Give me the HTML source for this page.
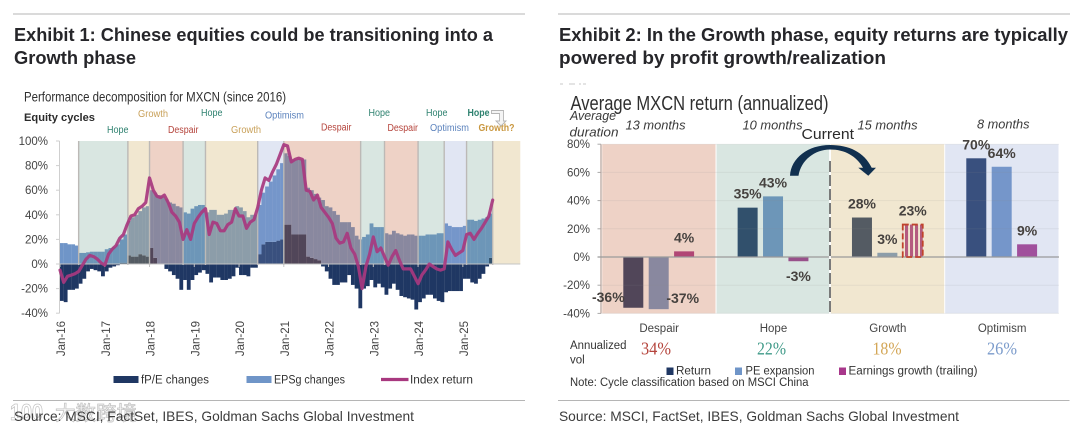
<!DOCTYPE html>
<html lang="en">
<head>
<meta charset="utf-8">
<title>Chinese equities cycle exhibits</title>
<style>
html,body{margin:0;padding:0;background:#fff;width:1080px;height:434px;overflow:hidden}
svg{display:block;font-family:"Liberation Sans","Noto Sans CJK SC",sans-serif;filter:blur(0.3px)}
.title{font-size:18px;font-weight:700;fill:#26262a}
.src{font-size:14px;fill:#3c3c3c}
.tick{font-size:11.5px;fill:#444}
.cyc{font-size:10px}
.leg{font-size:11.5px;fill:#333}
.ital{font-size:13px;font-style:italic;fill:#3a3a3a}
.vol{font-family:"Liberation Serif",serif;font-size:18px}
.lab{font-size:14px;font-weight:700;fill:#46423f}
</style>
</head>
<body>
<svg id="root" width="1080" height="434" viewBox="0 0 1080 434" xmlns="http://www.w3.org/2000/svg">
<defs>
<pattern id="hatch" patternUnits="userSpaceOnUse" width="5" height="6"><rect width="3.2" height="6" fill="#a8378b"/><rect x="3.2" width="1.8" height="6" fill="#fff"/></pattern>
<filter id="halo" x="-20%" y="-40%" width="140%" height="180%"><feMorphology in="SourceAlpha" operator="dilate" radius="1.2" result="d"/><feGaussianBlur in="d" stdDeviation="0.8" result="b"/><feFlood flood-color="#ffffff"/><feComposite in2="b" operator="in" result="w"/><feMerge><feMergeNode in="w"/><feMergeNode in="SourceGraphic"/></feMerge></filter>
</defs>
<line x1="13" y1="14" x2="525" y2="14" stroke="#c4c4c4" stroke-width="1.2"/>
<line x1="558" y1="14" x2="1070" y2="14" stroke="#c4c4c4" stroke-width="1.2"/>
<text class="title" x="14" y="41" textLength="479" lengthAdjust="spacingAndGlyphs">Exhibit 1: Chinese equities could be transitioning into a</text>
<text class="title" x="14" y="64" textLength="122" lengthAdjust="spacingAndGlyphs">Growth phase</text>
<text class="title" x="559" y="41" textLength="509" lengthAdjust="spacingAndGlyphs">Exhibit 2: In the Growth phase, equity returns are typically</text>
<text class="title" x="559" y="64" textLength="327" lengthAdjust="spacingAndGlyphs">powered by profit growth/realization</text>
<path d="M560 84h3M569 84h6M579 84h2M583 84h3" stroke="#c9c9c9" stroke-width="1"/>

<text x="24" y="101.5" font-size="14" fill="#2f2f2f" textLength="262" lengthAdjust="spacingAndGlyphs">Performance decomposition for MXCN (since 2016)</text>
<text x="24" y="121" font-size="11" font-weight="700" fill="#2b2b2b" textLength="71" lengthAdjust="spacingAndGlyphs">Equity cycles</text>

<g id="c1-bars"></g>
<g id="c1-shades"></g>
<g id="c1-axes"></g>
<g id="c1-line"></g>

<g>
<text class="cyc" fill="#2f8270" x="107" y="133" textLength="21.5" lengthAdjust="spacingAndGlyphs">Hope</text>
<text class="cyc" fill="#c9a15a" x="138" y="117" textLength="30" lengthAdjust="spacingAndGlyphs">Growth</text>
<text class="cyc" fill="#b5443c" x="168" y="133" textLength="30.5" lengthAdjust="spacingAndGlyphs">Despair</text>
<text class="cyc" fill="#2f8270" x="201" y="116" textLength="21.5" lengthAdjust="spacingAndGlyphs">Hope</text>
<text class="cyc" fill="#c9a15a" x="231" y="133" textLength="30" lengthAdjust="spacingAndGlyphs">Growth</text>
<text class="cyc" fill="#5c83bd" x="265" y="118.5" textLength="39" lengthAdjust="spacingAndGlyphs">Optimism</text>
<text class="cyc" fill="#b5443c" x="321" y="130.5" textLength="30.5" lengthAdjust="spacingAndGlyphs">Despair</text>
<text class="cyc" fill="#2f8270" x="368.5" y="116" textLength="21.5" lengthAdjust="spacingAndGlyphs">Hope</text>
<text class="cyc" fill="#b5443c" x="387.5" y="131" textLength="30.5" lengthAdjust="spacingAndGlyphs">Despair</text>
<text class="cyc" fill="#2f8270" x="426" y="116" textLength="21.5" lengthAdjust="spacingAndGlyphs">Hope</text>
<text class="cyc" fill="#5c83bd" x="430" y="131" textLength="39" lengthAdjust="spacingAndGlyphs">Optimism</text>
<text class="cyc" fill="#2f8270" font-weight="700" x="467.5" y="116" textLength="22" lengthAdjust="spacingAndGlyphs">Hope</text>
<text class="cyc" fill="#c9973f" font-weight="700" x="478.5" y="131" textLength="36" lengthAdjust="spacingAndGlyphs">Growth?</text>
<path d="M491.5 110.5H503.5V121H506L501 126L496 121H499.5V113.5H491.5Z" fill="#f4f4f4" stroke="#b5b5b5" stroke-width="0.9"/>
</g>

<g>
<rect x="113.5" y="376" width="25" height="7" fill="#1f3763"/>
<text class="leg" x="141" y="383.5" textLength="68" lengthAdjust="spacingAndGlyphs">fP/E changes</text>
<rect x="246.5" y="376" width="25" height="7" fill="#6f95c8"/>
<text class="leg" x="274" y="383.5" textLength="71" lengthAdjust="spacingAndGlyphs">EPSg changes</text>
<line x1="381" y1="379.5" x2="408.5" y2="379.5" stroke="#a8387f" stroke-width="3.2"/>
<text class="leg" x="410" y="383.5" textLength="63" lengthAdjust="spacingAndGlyphs">Index return</text>
</g>

<text x="570.5" y="110" font-size="20" fill="#2f2f2f" textLength="258" lengthAdjust="spacingAndGlyphs">Average MXCN return (annualized)</text>
<text class="ital" x="570" y="120" textLength="46" lengthAdjust="spacingAndGlyphs">Average</text>
<text class="ital" x="569.5" y="136.5" textLength="49" lengthAdjust="spacingAndGlyphs">duration</text>

<g id="c2-bars"></g>
<g id="c2-panels"></g>
<g id="c2-axes"></g>
<g id="c2-labels"></g>

<g>
<line x1="830" y1="146" x2="830" y2="313.5" stroke="#fff" stroke-width="1.8"/>
<line x1="830" y1="161" x2="830" y2="313.5" stroke="#6c6c6c" stroke-width="1.8" stroke-dasharray="11 3"/>
<path d="M790 175.7C791 158 808 145 830 145C849 145 864 152 871.7 167.7H876L868.3 175.7L858.3 167.7H863C856 156 845 149.5 830 149.5C815 149.5 801 160 798.5 175.7Z" fill="#11304f"/>
<text x="801.5" y="139" font-size="14.5" fill="#2b2b2b" textLength="52.5" lengthAdjust="spacingAndGlyphs">Current</text>
</g>

<g>
<text class="ital" x="625.5" y="129.5" textLength="60" lengthAdjust="spacingAndGlyphs">13 months</text>
<text class="ital" x="742.5" y="129.5" textLength="60" lengthAdjust="spacingAndGlyphs">10 months</text>
<text class="ital" x="857.5" y="129.5" textLength="60" lengthAdjust="spacingAndGlyphs">15 months</text>
<text class="ital" x="977" y="128.5" textLength="52.5" lengthAdjust="spacingAndGlyphs">8 months</text>
</g>

<text class="leg" x="570" y="349" textLength="56.5" lengthAdjust="spacingAndGlyphs">Annualized</text>
<text class="leg" x="570" y="363.5">vol</text>
<text class="vol" x="656" y="354.5" text-anchor="middle" fill="#b5443c" textLength="30" lengthAdjust="spacingAndGlyphs">34%</text>
<text class="vol" x="771.5" y="354.5" text-anchor="middle" fill="#3f9a88" textLength="29" lengthAdjust="spacingAndGlyphs">22%</text>
<text class="vol" x="887" y="354.5" text-anchor="middle" fill="#d3a656" textLength="29" lengthAdjust="spacingAndGlyphs">18%</text>
<text class="vol" x="1002" y="354.5" text-anchor="middle" fill="#7b9bcb" textLength="30" lengthAdjust="spacingAndGlyphs">26%</text>

<g>
<rect x="666.5" y="367.5" width="7" height="7.5" fill="#1f3763"/>
<text class="leg" x="676" y="374.5" textLength="35" lengthAdjust="spacingAndGlyphs">Return</text>
<rect x="735" y="367.5" width="7" height="7.5" fill="#6f95c8"/>
<text class="leg" x="745.5" y="374.5" textLength="69" lengthAdjust="spacingAndGlyphs">PE expansion</text>
<rect x="839" y="367.5" width="7" height="7.5" fill="#a8378b"/>
<text class="leg" x="848.5" y="374.5" textLength="129" lengthAdjust="spacingAndGlyphs">Earnings growth (trailing)</text>
</g>
<text class="leg" x="570" y="386" textLength="238.5" lengthAdjust="spacingAndGlyphs">Note: Cycle classification based on MSCI China</text>

<line x1="13" y1="400.5" x2="525" y2="400.5" stroke="#b5b5b5" stroke-width="1"/>
<line x1="558" y1="400.5" x2="1069.5" y2="400.5" stroke="#b5b5b5" stroke-width="1"/>
<g opacity="0.9" filter="url(#halo)">
<text x="10" y="420" font-size="23" font-weight="700" fill="#fff" stroke="#bdbdbd" stroke-width="0.8" textLength="33" lengthAdjust="spacingAndGlyphs">100</text>
<text x="55" y="420" font-size="20" fill="#fff" stroke="#bdbdbd" stroke-width="0.8" textLength="82" lengthAdjust="spacingAndGlyphs">大数跨境</text>
</g>
<text class="src" x="14" y="421" textLength="400" lengthAdjust="spacingAndGlyphs">Source: MSCI, FactSet, IBES, Goldman Sachs Global Investment</text>
<text class="src" x="559" y="421" textLength="400" lengthAdjust="spacingAndGlyphs">Source: MSCI, FactSet, IBES, Goldman Sachs Global Investment</text>

</svg>

<script>
/* ---------- Exhibit 1 data (percent, monthly from Jan-16) ---------- */
const tickLabels1 = ['Jan-16','Jan-17','Jan-18','Jan-19','Jan-20','Jan-21','Jan-22','Jan-23','Jan-24','Jan-25'];
const yTicks1 = [100,80,60,40,20,0,-20,-40];
const fpeChanges = [-30,-31,-21,-21,-20,-16,-12,-6,-4,-5,-6,-10,-6,-3,-2,-1,1,1,7,6,6,8,7,6,13,5,0,0,-4,-6,-9,-12,-21,-13,-21,-13,-9,-7,-5,-8,-15,-11,-11,-13,-13,-12,-10,-3,-9,-9,-10,-3,-3,8,16,18,18,18,19,20,32,32,24,24,24,24,6,5,4,3,-2,-6,-12,-17,-17,-15,-15,-9,-17,-20,-36,-20,-18,-13,-19,-16,-19,-25,-20,-16,-21,-26,-27,-28,-29,-37,-31,-28,-25,-25,-28,-30,-31,-23,-22,-22,-22,-22,-12,-12,-15,-16,-12,-8,-2,5];
const epsChanges = [17,17,16,16,15,9,9,9.5,10,10,10,10,12,13,14,16,19,23,28,32,34,35,39,41,47,53,56,55,53,50,49,47,46,42,41,45,47,48,48,42,44,44,40,40,41,44,44,47,46,43,38,40,40,40,42,45,49,54,58,62,58,56,61,61,61,61,56,55,53,51,52,47,46,43,40,34,34,34,30,23,20,22,24,33,30,30,30,25,24,27,25,24,23,24,24,23,23,23,24,24,24,25,25,33,31,30,30,30,31,36,36,35,36,37,38,36];
const indexReturn = [-5,-15,-10,-9,-8,-6,-1,4,7,6,4,1,-1,8,12,15,21,24,32,39,40,45,47,50,70,60,55,54,56,50,42,39,34,20,28,20,33,38,42,45,24,34,33,27,27,32,34,45,39,39,29,34,36,46,60,70,68,75,81,89,97,96,83,85,86,85,60,59,52,56,46,42,38,33,21,17,18,25,13,8,-2,-20,-2,8,22,10,13,6,-1,6,11,3,-4,-4,-4,-10,-16,-9,-5,0,-2,-4,-5,-4,18,12,7,9,11,24,25,20,25,29,34,39,52];
const cycleNames = ['Hope','Growth','Despair','Hope','Growth','Optimism','Despair','Hope','Despair','Hope','Optimism','Hope','Growth'];
const cycleBounds = [5,18.2,24,33,39,53,60,80.6,87,96,103,109,116,123.4];

/* ---------- Exhibit 2 data (percent) ---------- */
const phases = ['Despair','Hope','Growth','Optimism'];
const returnValues = [-36,35,28,70];
const peValues = [-37,43,3,64];
const earningsValues = [4,-3,23,9];
const yTicks2 = [80,60,40,20,0,-20,-40];

/* ---------- helpers ---------- */
const NS = 'http://www.w3.org/2000/svg';
function mk(parent, tag, attrs, txt){
  const el = document.createElementNS(NS, tag);
  for (const k in attrs) el.setAttribute(k, attrs[k]);
  if (txt !== undefined) el.textContent = txt;
  parent.appendChild(el);
  return el;
}
const tint = {
  Hope:'rgba(104,156,136,.25)',
  Growth:'rgba(208,175,98,.3)',
  Despair:'rgba(198,105,65,.3)',
  Optimism:'rgba(136,156,208,.25)'
};

/* ---------- Exhibit 1 ---------- */
const MONTH = 3.73;
const x1 = i => 60 + MONTH * i;
const y1 = v => 264 - 1.23 * v;
const bars1 = document.getElementById('c1-bars');
fpeChanges.forEach((v, i) => {
  const top = Math.min(y1(v), y1(0));
  const r = mk(bars1, 'rect', {x:x1(i), y:top, width:MONTH + 0.1, height:Math.abs(y1(v) - y1(0)), fill:'#1f3763'});
  
  
});
epsChanges.forEach((v, i) => {
  const base = Math.max(fpeChanges[i], 0);
  const r = mk(bars1, 'rect', {x:x1(i), y:y1(base + v), width:MONTH + 0.1, height:y1(base) - y1(base + v), fill:'#6f95c8'});
  
  
});
const shades1 = document.getElementById('c1-shades');
cycleNames.forEach((name, i) => {
  const a = x1(cycleBounds[i]), b = x1(cycleBounds[i + 1]);
  const r = mk(shades1, 'rect', {x:a, y:y1(100), width:b - a, height:y1(0) - y1(100), fill:tint[name]});
  
  
  const s = mk(shades1, 'line', {x1:a, x2:a, y1:y1(100), y2:y1(0) + 1, stroke:'#bcb9b6', 'stroke-width':1.4});
  
  
});
const axes1 = document.getElementById('c1-axes');
const yAxis1 = mk(axes1, 'line', {x1:59.5, x2:59.5, y1:y1(100), y2:y1(-40), stroke:'#cfcfcf', 'stroke-width':1});


const zero1 = mk(axes1, 'line', {x1:59.5, x2:x1(cycleBounds[13]), y1:y1(0), y2:y1(0), stroke:'#c4c4c4', 'stroke-width':1});


yTicks1.forEach(v => {
  const t = mk(axes1, 'line', {x1:56, x2:59.5, y1:y1(v), y2:y1(v), stroke:'#cfcfcf'});
  
  
  const l = mk(axes1, 'text', {class:'tick', x:48, y:y1(v) + 4, 'text-anchor':'end'}, v + '%');
  
  
});
tickLabels1.forEach((lab, k) => {
  const x = x1(12 * k);
  const t = mk(axes1, 'line', {x1:x, x2:x, y1:y1(0), y2:y1(0) + 3, stroke:'#c4c4c4'});
  
  
  const l = mk(axes1, 'text', {class:'tick', 'text-anchor':'end', transform:'translate(' + (x + 5) + ',321) rotate(-90)'}, lab);
  
  
});
const line1 = document.getElementById('c1-line');
const linePath = mk(line1, 'path', {
  d:indexReturn.map((v, i) => (i ? 'L' : 'M') + x1(i).toFixed(1) + ' ' + y1(v).toFixed(1)).join(''),
  fill:'none', stroke:'#a8387f', 'stroke-width':3.2, 'stroke-linejoin':'round', 'stroke-linecap':'round', 'stroke-opacity':0.92
});



/* ---------- Exhibit 2 ---------- */
const PANEL_LEFT = 601.7, PANEL_W = 114.33;
const y2 = v => 257 - 1.41 * v;
const seriesList = [
  {name:'return', vals:returnValues, color:'#1f3763', off:21.6},
  {name:'pe', vals:peValues, color:'#6f95c8', off:47},
  {name:'earnings', vals:earningsValues, color:'#a8378b', off:72.4}
];
const BAR_W = 20;
const bars2 = document.getElementById('c2-bars');
const labels2 = document.getElementById('c2-labels');
seriesList.forEach((s, si) => {
  s.vals.forEach((v, p) => {
    const x = PANEL_LEFT + PANEL_W * p + s.off;
    const hatched = s.name === 'earnings' && phases[p] === 'Growth';
    const r = mk(bars2, 'rect', {x:x, y:Math.min(y2(v), y2(0)), width:BAR_W, height:Math.abs(y2(v) - y2(0)), fill:hatched ? 'url(#hatch)' : s.color});
    
    
    if (hatched) {
      const b = mk(labels2, 'rect', {x:x, y:y2(v), width:BAR_W, height:y2(0) - y2(v), fill:'none', stroke:'#c0432c', 'stroke-width':1.8, 'stroke-dasharray':'6 3'});
      
      
    }
    let lx = x + BAR_W / 2, ly = y2(v) - 9;
    if (v < 0) {
      ly = y2(v) + 20;
      if (v < -30) { lx += si === 0 ? -25 : 24; ly = y2(v) - 6; }
    }
    const l = mk(labels2, 'text', {class:'lab', x:lx, y:ly, 'text-anchor':'middle'}, v + '%');
    
    
  });
});
const panels2 = document.getElementById('c2-panels');
phases.forEach((name, p) => {
  const r = mk(panels2, 'rect', {x:PANEL_LEFT + PANEL_W * p + 0.5, y:y2(80), width:PANEL_W - 1, height:y2(-40) - y2(80), fill:tint[name]});
  
  
  const c = mk(panels2, 'text', {class:'leg', x:PANEL_LEFT + PANEL_W * (p + 0.5) + 0.3, y:332, 'text-anchor':'middle', style:'fill:#444'}, name);
  
  
});
const axes2 = document.getElementById('c2-axes');
yTicks2.forEach(v => {
  if (v !== 0) {
    const g = mk(axes2, 'line', {x1:601, x2:1059, y1:y2(v), y2:y2(v), stroke:'#8a8a8a', 'stroke-opacity':0.13});
    
    
  }
  const t = mk(axes2, 'line', {x1:597.5, x2:601, y1:y2(v), y2:y2(v), stroke:'#aaa'});
  
  
  const l = mk(axes2, 'text', {class:'tick', x:590, y:y2(v) + 4, 'text-anchor':'end'}, v + '%');
  
  
});
const yAxis2 = mk(axes2, 'line', {x1:601, x2:601, y1:y2(80), y2:y2(-40), stroke:'#b59f97', 'stroke-width':1.2});


const zero2 = mk(axes2, 'line', {x1:597.5, x2:1059, y1:y2(0), y2:y2(0), stroke:'#9a9a9a', 'stroke-width':1.3});


</script>
</body>
</html>
